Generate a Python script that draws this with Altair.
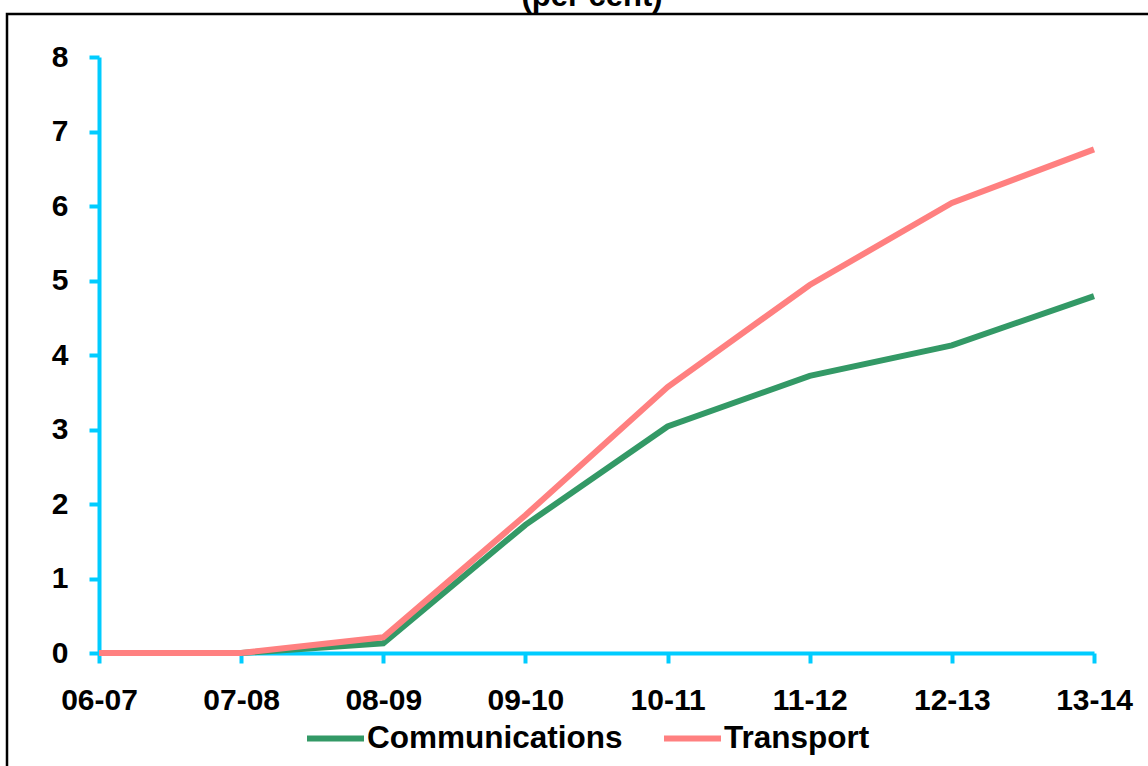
import altair as alt
import pandas as pd

periods = ["06-07", "07-08", "08-09", "09-10", "10-11", "11-12", "12-13", "13-14"]
communications = [0, 0, 0.13, 1.72, 3.04, 3.72, 4.13, 4.79]
transport = [0, 0, 0.21, 1.85, 3.57, 4.94, 6.04, 6.76]
series_names = ["Communications", "Transport"]
series_colors = ["#339966", "#FF8080"]
title_text = "(per cent)"

FONT = "Liberation Sans"
AXIS_COLOR = "#00CCFF"

rows = []
for p, c, t in zip(periods, communications, transport):
    rows.append({"period": p, "series": series_names[0], "value": c})
    rows.append({"period": p, "series": series_names[1], "value": t})
df = pd.DataFrame(rows)

lines = alt.Chart(df).mark_line(strokeWidth=6, strokeJoin="miter").encode(
    x=alt.X(
        "period:N",
        sort=periods,
        scale=alt.Scale(type="point", padding=0),
        axis=alt.Axis(
            title=None, labelAngle=0, labelFlush=False, domainColor=AXIS_COLOR,
            domainWidth=4, tickColor=AXIS_COLOR, tickWidth=4, tickSize=10,
            labelFont=FONT, labelFontSize=30, labelFontWeight="bold",
            labelColor="black", labelPadding=22, grid=False,
        ),
    ),
    y=alt.Y(
        "value:Q",
        scale=alt.Scale(domain=[0, 8], nice=False),
        axis=alt.Axis(
            title=None, values=[0, 1, 2, 3, 4, 5, 6, 7, 8], format="d",
            domainColor=AXIS_COLOR, domainWidth=4, tickColor=AXIS_COLOR,
            tickWidth=4, tickSize=10, labelFont=FONT, labelFontSize=30,
            labelFontWeight="bold", labelColor="black", labelPadding=21,
            grid=False,
        ),
    ),
    color=alt.Color(
        "series:N",
        scale=alt.Scale(domain=series_names, range=series_colors),
        legend=alt.Legend(
            title=None, orient="none", legendX=205, legendY=650,
            direction="horizontal", symbolType="stroke", symbolSize=3249,
            symbolStrokeWidth=6, labelFont=FONT, labelFontSize=31.5,
            labelFontWeight="bold", labelColor="black", labelOffset=0,
            labelLimit=0, columnPadding=29,
        ),
    ),
    order=alt.Order("series:N"),
)

border = alt.Chart(pd.DataFrame({"a": [0]})).mark_rect(
    fill="transparent", stroke="black", strokeWidth=2.5
).encode(
    x=alt.value(-92), x2=alt.value(1060), y=alt.value(-43), y2=alt.value(720)
)

title = alt.Chart(pd.DataFrame({"t": [title_text]})).mark_text(
    font=FONT, fontSize=31, fontWeight="bold", baseline="alphabetic",
    align="center", color="black"
).encode(text="t:N", x=alt.value(493), y=alt.value(-51))

chart = alt.layer(border, lines, title).properties(
    width=995, height=596,
    autosize=alt.AutoSizeParams(type="none"),
    padding={"left": 99, "top": 57, "right": 54, "bottom": 113},
).configure(background="white").configure_view(strokeWidth=0, stroke="transparent")

chart.save("out.html", embed_options={"renderer": "svg", "actions": False})
